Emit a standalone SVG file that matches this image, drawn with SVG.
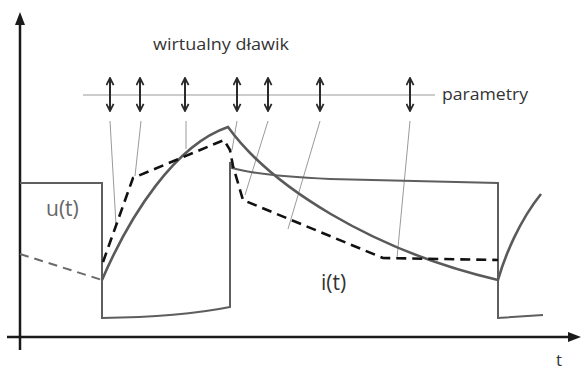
<svg xmlns="http://www.w3.org/2000/svg" width="582" height="371" viewBox="0 0 582 371">
<style>
.axis{stroke:#1a1a1a;stroke-width:2.5;fill:none}
.u{stroke:#5e5e5e;stroke-width:2;fill:none}
.i{stroke:#5a5a5a;stroke-width:2.6;fill:none}
.dash{stroke:#111;stroke-width:2.6;fill:none;stroke-dasharray:10 6}
.gdash{stroke:#6a6a6a;stroke-width:2;fill:none;stroke-dasharray:9 6}
.thin{stroke:#9a9a9a;stroke-width:1;fill:none}
.par{stroke:#2a2a2a;stroke-width:2;fill:none;marker-start:url(#chev);marker-end:url(#chev)}
.lbl{font-family:"Open Sans","Liberation Sans",sans-serif;fill:#333}
</style>
<defs>
<marker id="chev" viewBox="0 0 10 10" refX="9" refY="5" markerWidth="4.5" markerHeight="4.5" orient="auto-start-reverse" markerUnits="strokeWidth">
<path d="M1,1 L9,5 L1,9" fill="none" stroke="#2a2a2a" stroke-width="2"/>
</marker>
</defs>
<g id="axes">
<line class="axis" x1="20" y1="350" x2="20" y2="22"/>
<polygon points="20,12 15,25 25,25" fill="#1a1a1a"/>
<line class="axis" x1="7" y1="337" x2="570" y2="337"/>
<polygon points="581,337 568,332 568,342" fill="#1a1a1a"/>
</g>
<g id="parameter-line">
<line class="thin" x1="83" y1="95" x2="435" y2="95" stroke="#a0a0a0"/>
</g>
<g id="connectors">
<line class="par" x1="110" y1="78" x2="110" y2="111"/>
<line class="par" x1="140" y1="78" x2="140" y2="111"/>
<line class="par" x1="185" y1="78" x2="185" y2="111"/>
<line class="par" x1="237" y1="78" x2="237" y2="111"/>
<line class="par" x1="268" y1="78" x2="268" y2="111"/>
<line class="par" x1="320" y1="78" x2="320" y2="111"/>
<line class="par" x1="410" y1="78" x2="410" y2="111"/>
<line class="thin" x1="110" y1="121" x2="116" y2="225"/>
<line class="thin" x1="141" y1="121" x2="135" y2="176"/>
<line class="thin" x1="186" y1="121" x2="186" y2="149"/>
<line class="thin" x1="237" y1="121" x2="232" y2="150"/>
<line class="thin" x1="268" y1="121" x2="245" y2="195"/>
<line class="thin" x1="320" y1="121" x2="288" y2="229"/>
<line class="thin" x1="410" y1="121" x2="397" y2="258"/>
</g>
<g id="u-signal">
<path class="u" d="M20,183 L102,183 L102,318 Q180,317 230,307 L230,162 L232,168 Q260,176 330,179 L498,183 L498,318 L543,315"/>
</g>
<g id="i-signal">
<path class="i" d="M102,280 C130,215 175,145 228,127 C270,185 370,250 498,280 C505,255 520,220 541,194"/>
<path class="gdash" d="M20,254 L102,280"/>
</g>
<g id="virtual-choke">
<path class="dash" d="M103,262 L133,178 L224,140 L230,150 L233,166 L243,200 L383,258 L498,260"/>
</g>
<g id="labels">
<text class="lbl" x="153" y="50" font-size="16" font-weight="500" textLength="136" lengthAdjust="spacingAndGlyphs">wirtualny dławik</text>
<text class="lbl" x="442" y="100" font-size="16" font-weight="500" textLength="86" lengthAdjust="spacingAndGlyphs">parametry</text>
<text class="lbl" x="46" y="216" font-size="21" style="fill:#666">u(t)</text>
<text class="lbl" x="321" y="290" font-size="21">i(t)</text>
<text class="lbl" x="556" y="366" font-size="17">t</text>
</g>
</svg>
